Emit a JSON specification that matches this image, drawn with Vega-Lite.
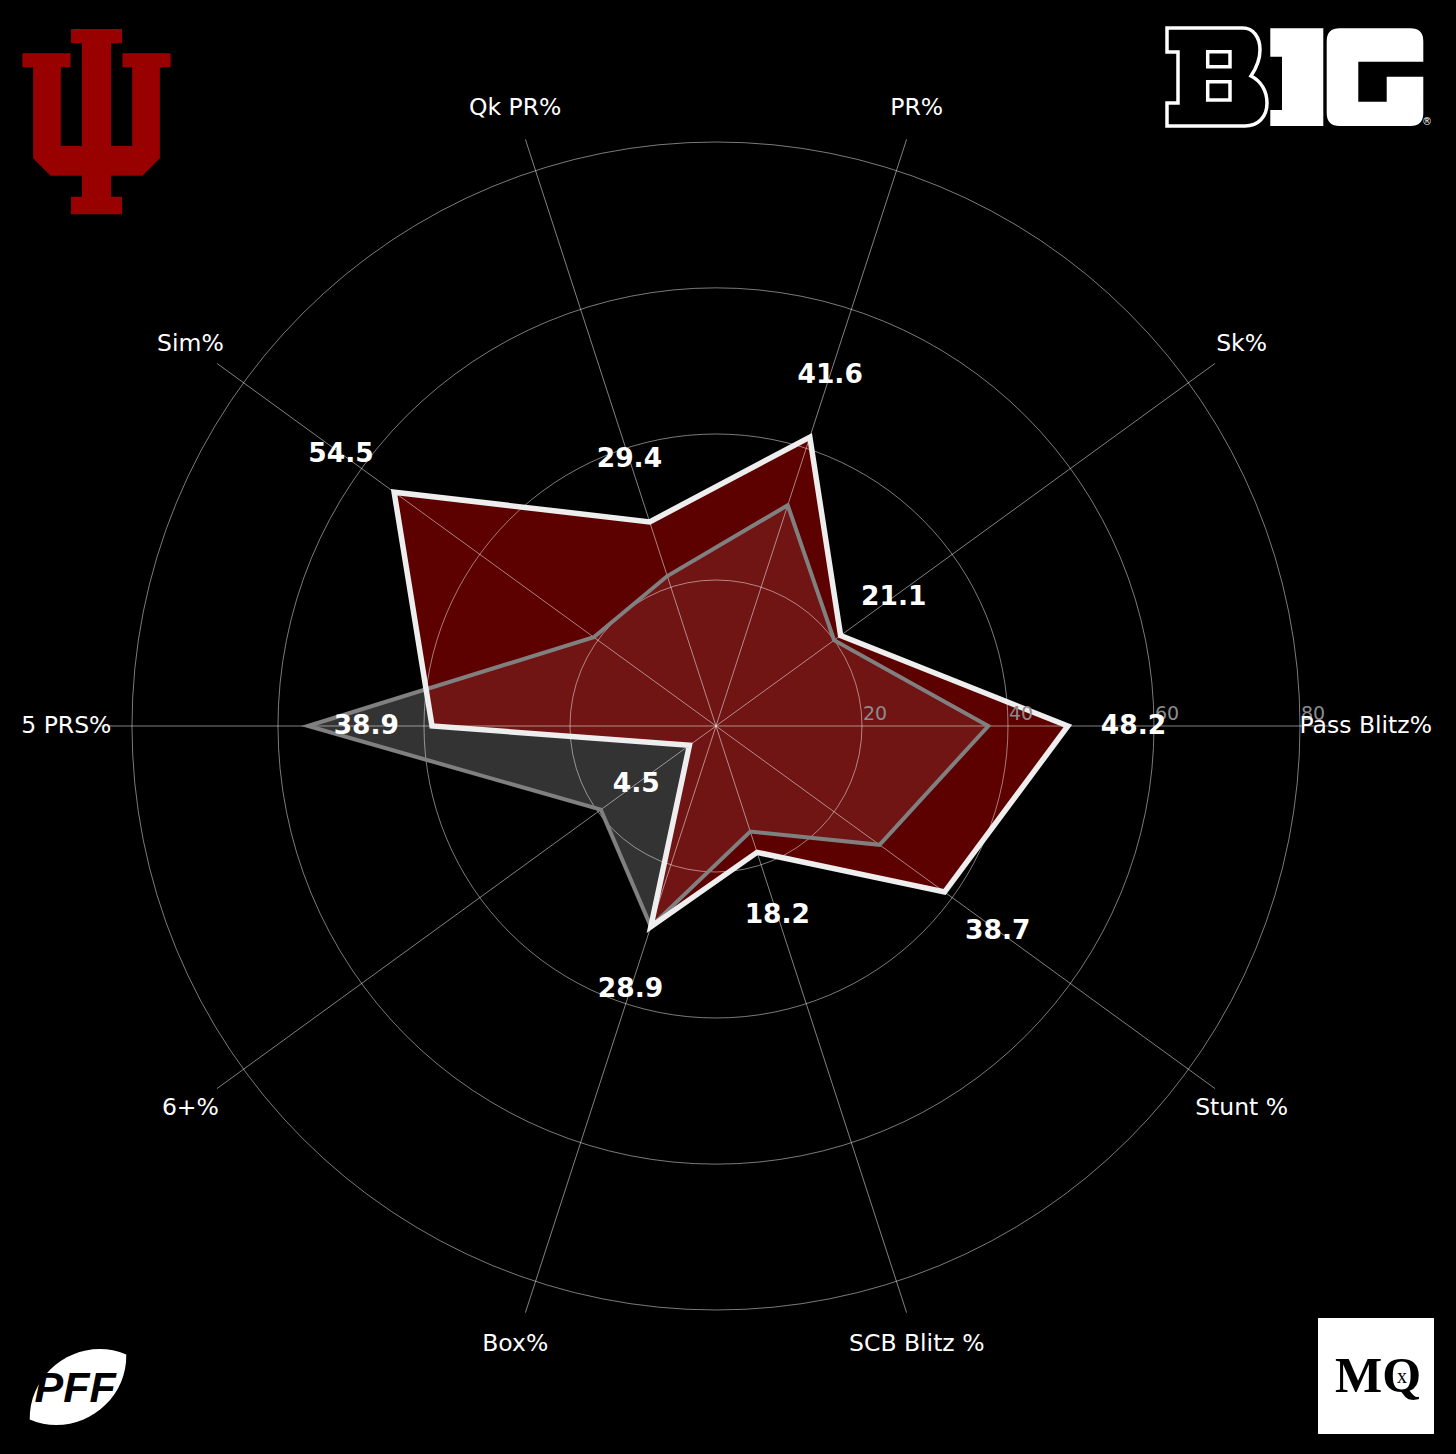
{
  "$schema": "https://vega.github.io/schema/vega-lite/v6.json",
  "width": 1456,
  "height": 1454,
  "padding": 0,
  "autosize": {"type": "fit", "contains": "padding"},
  "background": "#000000",
  "config": {"view": {"stroke": null}, "font": "DejaVu Sans"},
  "datasets": {
    "axes": [
      {"axis": "Pass Blitz%", "i": 0, "iu": 48.2, "avg": 37.3},
      {"axis": "Sk%", "i": 1, "iu": 21.1, "avg": 20.0},
      {"axis": "PR%", "i": 2, "iu": 41.6, "avg": 31.8},
      {"axis": "Qk PR%", "i": 3, "iu": 29.4, "avg": 21.6},
      {"axis": "Sim%", "i": 4, "iu": 54.5, "avg": 20.7},
      {"axis": "5 PRS%", "i": 5, "iu": 38.9, "avg": 55.9},
      {"axis": "6+%", "i": 6, "iu": 4.5, "avg": 19.5},
      {"axis": "Box%", "i": 7, "iu": 28.9, "avg": 28.9},
      {"axis": "SCB Blitz %", "i": 8, "iu": 18.2, "avg": 15.2},
      {"axis": "Stunt %", "i": 9, "iu": 38.7, "avg": 27.7}
    ],
    "rings": [{"r": 20}, {"r": 40}, {"r": 60}, {"r": 80}],
    "one": [{"k": 1}]
  },
  "layer": [
    {
      "data": {"name": "axes"},
      "transform": [
        {"calculate": "datum.i*PI/5", "as": "t"},
        {"calculate": "datum.avg*cos(datum.t)", "as": "px"},
        {"calculate": "datum.avg*sin(datum.t)", "as": "py"}
      ],
      "mark": {"type": "line", "interpolate": "linear-closed", "fill": "#333333", "stroke": "transparent", "strokeWidth": 0},
      "encoding": {
        "x": {"field": "px", "type": "quantitative", "scale": {"domain": [-98.0822, 101.3699], "nice": false, "zero": false}, "axis": null},
        "y": {"field": "py", "type": "quantitative", "scale": {"domain": [-99.726, 99.452], "nice": false, "zero": false}, "axis": null},
        "order": {"field": "i", "type": "quantitative"}
      }
    },
    {
      "data": {"name": "axes"},
      "transform": [
        {"calculate": "datum.i*PI/5", "as": "t"},
        {"calculate": "datum.iu*cos(datum.t)", "as": "px"},
        {"calculate": "datum.iu*sin(datum.t)", "as": "py"}
      ],
      "mark": {"type": "line", "interpolate": "linear-closed", "fill": "#990000", "fillOpacity": 0.6, "stroke": "transparent", "strokeWidth": 0},
      "encoding": {
        "x": {"field": "px", "type": "quantitative", "scale": {"domain": [-98.0822, 101.3699], "nice": false, "zero": false}, "axis": null},
        "y": {"field": "py", "type": "quantitative", "scale": {"domain": [-99.726, 99.452], "nice": false, "zero": false}, "axis": null},
        "order": {"field": "i", "type": "quantitative"}
      }
    },
    {
      "data": {"name": "rings"},
      "mark": {"type": "point", "shape": "circle", "filled": false, "stroke": "#ffffff", "strokeOpacity": 0.48, "strokeWidth": 1, "opacity": 1},
      "encoding": {
        "x": {"datum": 0, "type": "quantitative", "scale": {"domain": [-98.0822, 101.3699], "nice": false, "zero": false}, "axis": null},
        "y": {"datum": 0, "type": "quantitative", "scale": {"domain": [-99.726, 99.452], "nice": false, "zero": false}, "axis": null},
        "size": {"field": "r", "type": "quantitative", "scale": {"type": "pow", "exponent": 2, "domain": [0, 100], "range": [0, 2131600]}, "legend": null}
      }
    },
    {
      "data": {"name": "axes"},
      "transform": [
        {"calculate": "datum.i*PI/5", "as": "t"},
        {"calculate": "84.5*cos(datum.t)", "as": "ex"},
        {"calculate": "84.5*sin(datum.t)", "as": "ey"}
      ],
      "mark": {"type": "rule", "stroke": "#ffffff", "strokeOpacity": 0.5, "strokeWidth": 1},
      "encoding": {
        "x": {"field": "ex", "type": "quantitative", "scale": {"domain": [-98.0822, 101.3699], "nice": false, "zero": false}, "axis": null},
        "y": {"field": "ey", "type": "quantitative", "scale": {"domain": [-99.726, 99.452], "nice": false, "zero": false}, "axis": null},
        "x2": {"datum": 0},
        "y2": {"datum": 0}
      }
    },
    {
      "data": {"name": "axes"},
      "transform": [
        {"calculate": "datum.i*PI/5", "as": "t"},
        {"calculate": "datum.avg*cos(datum.t)", "as": "px"},
        {"calculate": "datum.avg*sin(datum.t)", "as": "py"}
      ],
      "mark": {"type": "line", "interpolate": "linear-closed", "stroke": "#808080", "strokeWidth": 4, "strokeJoin": "miter"},
      "encoding": {
        "x": {"field": "px", "type": "quantitative", "scale": {"domain": [-98.0822, 101.3699], "nice": false, "zero": false}, "axis": null},
        "y": {"field": "py", "type": "quantitative", "scale": {"domain": [-99.726, 99.452], "nice": false, "zero": false}, "axis": null},
        "order": {"field": "i", "type": "quantitative"}
      }
    },
    {
      "data": {"name": "axes"},
      "transform": [
        {"calculate": "datum.i*PI/5", "as": "t"},
        {"calculate": "datum.iu*cos(datum.t)", "as": "px"},
        {"calculate": "datum.iu*sin(datum.t)", "as": "py"}
      ],
      "mark": {"type": "line", "interpolate": "linear-closed", "stroke": "#eeeeee", "strokeWidth": 5.5, "strokeJoin": "miter"},
      "encoding": {
        "x": {"field": "px", "type": "quantitative", "scale": {"domain": [-98.0822, 101.3699], "nice": false, "zero": false}, "axis": null},
        "y": {"field": "py", "type": "quantitative", "scale": {"domain": [-99.726, 99.452], "nice": false, "zero": false}, "axis": null},
        "order": {"field": "i", "type": "quantitative"}
      }
    },
    {
      "data": {"name": "rings"},
      "mark": {"type": "text", "fill": "#8c8c8c", "fontSize": 19, "align": "center", "baseline": "middle", "dx": 13, "dy": -12},
      "encoding": {
        "x": {"field": "r", "type": "quantitative", "scale": {"domain": [-98.0822, 101.3699], "nice": false, "zero": false}, "axis": null},
        "y": {"datum": 0, "type": "quantitative", "scale": {"domain": [-99.726, 99.452], "nice": false, "zero": false}, "axis": null},
        "text": {"field": "r", "type": "quantitative"}
      }
    },
    {
      "data": {"name": "axes"},
      "transform": [
        {"calculate": "datum.i*PI/5", "as": "t"},
        {"calculate": "89*cos(datum.t)", "as": "lx"},
        {"calculate": "89*sin(datum.t)", "as": "ly"}
      ],
      "mark": {"type": "text", "fill": "#ffffff", "fontSize": 23.5, "align": "center", "baseline": "middle"},
      "encoding": {
        "x": {"field": "lx", "type": "quantitative", "scale": {"domain": [-98.0822, 101.3699], "nice": false, "zero": false}, "axis": null},
        "y": {"field": "ly", "type": "quantitative", "scale": {"domain": [-99.726, 99.452], "nice": false, "zero": false}, "axis": null},
        "text": {"field": "axis", "type": "nominal"}
      }
    },
    {
      "data": {"name": "axes"},
      "transform": [
        {"calculate": "datum.i*PI/5", "as": "t"},
        {"calculate": "(datum.iu+9)*cos(datum.t)", "as": "vx"},
        {"calculate": "(datum.iu+9)*sin(datum.t)", "as": "vy"}
      ],
      "mark": {"type": "text", "fill": "#ffffff", "fontSize": 26.5, "fontWeight": "bold", "align": "center", "baseline": "middle"},
      "encoding": {
        "x": {"field": "vx", "type": "quantitative", "scale": {"domain": [-98.0822, 101.3699], "nice": false, "zero": false}, "axis": null},
        "y": {"field": "vy", "type": "quantitative", "scale": {"domain": [-99.726, 99.452], "nice": false, "zero": false}, "axis": null},
        "text": {"field": "iu", "type": "quantitative", "format": ".1f"}
      }
    },
    {
      "data": {"name": "one"},
      "mark": {"type": "point", "filled": true, "fill": "#990000", "opacity": 1, "strokeWidth": 0, "size": 34336,
        "shape": "M-0.275,-1 L0.275,-1 L0.275,-0.849 L0.157,-0.849 L0.157,0.263 L0.385,0.263 L0.385,-0.587 L0.28,-0.587 L0.28,-0.738 L0.8,-0.738 L0.8,-0.587 L0.684,-0.587 L0.684,0.396 L0.495,0.583 L0.157,0.583 L0.157,0.81 L0.275,0.81 L0.275,1 L-0.275,1 L-0.275,0.81 L-0.157,0.81 L-0.157,0.583 L-0.495,0.583 L-0.684,0.396 L-0.684,-0.587 L-0.8,-0.587 L-0.8,-0.738 L-0.28,-0.738 L-0.28,-0.587 L-0.385,-0.587 L-0.385,0.263 L-0.157,0.263 L-0.157,-0.849 L-0.275,-0.849 Z"},
      "encoding": {
        "x": {"datum": -84.86, "type": "quantitative", "scale": {"domain": [-98.0822, 101.3699], "nice": false, "zero": false}, "axis": null},
        "y": {"datum": 82.79, "type": "quantitative", "scale": {"domain": [-99.726, 99.452], "nice": false, "zero": false}, "axis": null}
      }
    },
    {
      "data": {"name": "one"},
      "mark": {"type": "point", "filled": true, "fill": "#000000", "stroke": "#ffffff", "strokeWidth": 3.5, "opacity": 1, "size": 67600,
        "shape": "M-0.9846,-0.3769 L-0.4,-0.3769 C-0.3231,-0.3769 -0.2692,-0.3077 -0.2692,-0.2077 C-0.2692,-0.1154 -0.3077,-0.0538 -0.3385,-0.0077 C-0.2615,0.0308 -0.2154,0.1077 -0.2154,0.2 C-0.2154,0.3077 -0.2846,0.3769 -0.3846,0.3769 L-0.9846,0.3769 L-0.9846,0.2 L-0.9,0.2 L-0.9,-0.1923 L-0.9846,-0.1923 Z M-0.6715,-0.1946 L-0.5,-0.1946 L-0.5,-0.0792 L-0.6715,-0.0792 Z M-0.6715,0.0362 L-0.5,0.0362 L-0.5,0.1769 L-0.6715,0.1769 Z"},
      "encoding": {
        "x": {"datum": 79.315, "type": "quantitative", "scale": {"domain": [-98.0822, 101.3699], "nice": false, "zero": false}, "axis": null},
        "y": {"datum": 88.904, "type": "quantitative", "scale": {"domain": [-99.726, 99.452], "nice": false, "zero": false}, "axis": null}
      }
    },
    {
      "data": {"name": "one"},
      "mark": {"type": "point", "filled": true, "fill": "#ffffff", "strokeWidth": 0, "opacity": 1, "size": 67600,
        "shape": "M-0.19,-0.3746 L0.2177,-0.3746 L0.2177,0.3769 L-0.19,0.3769 L-0.19,0.2538 L-0.1,0.2538 L-0.1,-0.1562 L-0.19,-0.1562 Z M0.9869,-0.1177 L0.9869,-0.2746 Q0.9869,-0.3746 0.8869,-0.3746 L0.3438,-0.3746 Q0.2438,-0.3746 0.2438,-0.2746 L0.2438,0.2769 Q0.2438,0.3769 0.3438,0.3769 L0.8869,0.3769 Q0.9869,0.3769 0.9869,0.2769 L0.9869,-0.0023 L0.7054,-0.0023 L0.7054,0.19 L0.4869,0.19 L0.4869,-0.1177 Z"},
      "encoding": {
        "x": {"datum": 79.315, "type": "quantitative", "scale": {"domain": [-98.0822, 101.3699], "nice": false, "zero": false}, "axis": null},
        "y": {"datum": 88.904, "type": "quantitative", "scale": {"domain": [-99.726, 99.452], "nice": false, "zero": false}, "axis": null}
      }
    },
    {
      "data": {"name": "one"},
      "mark": {"type": "text", "text": "®", "fill": "#ffffff", "fontSize": 10, "align": "center", "baseline": "middle"},
      "encoding": {
        "x": {"datum": 97.4, "type": "quantitative", "scale": {"domain": [-98.0822, 101.3699], "nice": false, "zero": false}, "axis": null},
        "y": {"datum": 82.74, "type": "quantitative", "scale": {"domain": [-99.726, 99.452], "nice": false, "zero": false}, "axis": null}
      }
    },
    {
      "data": {"name": "one"},
      "mark": {"type": "point", "filled": true, "fill": "#ffffff", "strokeWidth": 0, "opacity": 1, "size": 15600,
        "shape": "M-0.773,0.522 C-0.788,-0.273 0.042,-0.833 0.773,-0.522 C0.788,0.273 -0.042,0.833 -0.773,0.522 Z"},
      "encoding": {
        "x": {"datum": -87.397, "type": "quantitative", "scale": {"domain": [-98.0822, 101.3699], "nice": false, "zero": false}, "axis": null},
        "y": {"datum": -90.548, "type": "quantitative", "scale": {"domain": [-99.726, 99.452], "nice": false, "zero": false}, "axis": null}
      }
    },
    {
      "data": {"name": "one"},
      "mark": {"type": "text", "text": "PFF", "fill": "#000000", "font": "Liberation Sans", "fontSize": 43, "fontWeight": "bold", "fontStyle": "italic", "align": "center", "baseline": "middle"},
      "encoding": {
        "x": {"datum": -87.8, "type": "quantitative", "scale": {"domain": [-98.0822, 101.3699], "nice": false, "zero": false}, "axis": null},
        "y": {"datum": -90.82, "type": "quantitative", "scale": {"domain": [-99.726, 99.452], "nice": false, "zero": false}, "axis": null}
      }
    },
    {
      "data": {"name": "one"},
      "mark": {"type": "point", "shape": "square", "filled": true, "fill": "#ffffff", "strokeWidth": 0, "opacity": 1, "size": 13456},
      "encoding": {
        "x": {"datum": 90.41, "type": "quantitative", "scale": {"domain": [-98.0822, 101.3699], "nice": false, "zero": false}, "axis": null},
        "y": {"datum": -89.04, "type": "quantitative", "scale": {"domain": [-99.726, 99.452], "nice": false, "zero": false}, "axis": null}
      }
    },
    {
      "data": {"name": "one"},
      "mark": {"type": "text", "text": "MQ", "fill": "#000000", "font": "Liberation Serif", "fontSize": 50, "fontWeight": "bold", "align": "center", "baseline": "alphabetic"},
      "encoding": {
        "x": {"datum": 90.685, "type": "quantitative", "scale": {"domain": [-98.0822, 101.3699], "nice": false, "zero": false}, "axis": null},
        "y": {"datum": -91.233, "type": "quantitative", "scale": {"domain": [-99.726, 99.452], "nice": false, "zero": false}, "axis": null}
      }
    },
    {
      "data": {"name": "one"},
      "mark": {"type": "text", "text": "x", "fill": "#000000", "font": "Liberation Serif", "fontSize": 20, "align": "center", "baseline": "middle"},
      "encoding": {
        "x": {"datum": 93.97, "type": "quantitative", "scale": {"domain": [-98.0822, 101.3699], "nice": false, "zero": false}, "axis": null},
        "y": {"datum": -89.178, "type": "quantitative", "scale": {"domain": [-99.726, 99.452], "nice": false, "zero": false}, "axis": null}
      }
    }
  ]
}
